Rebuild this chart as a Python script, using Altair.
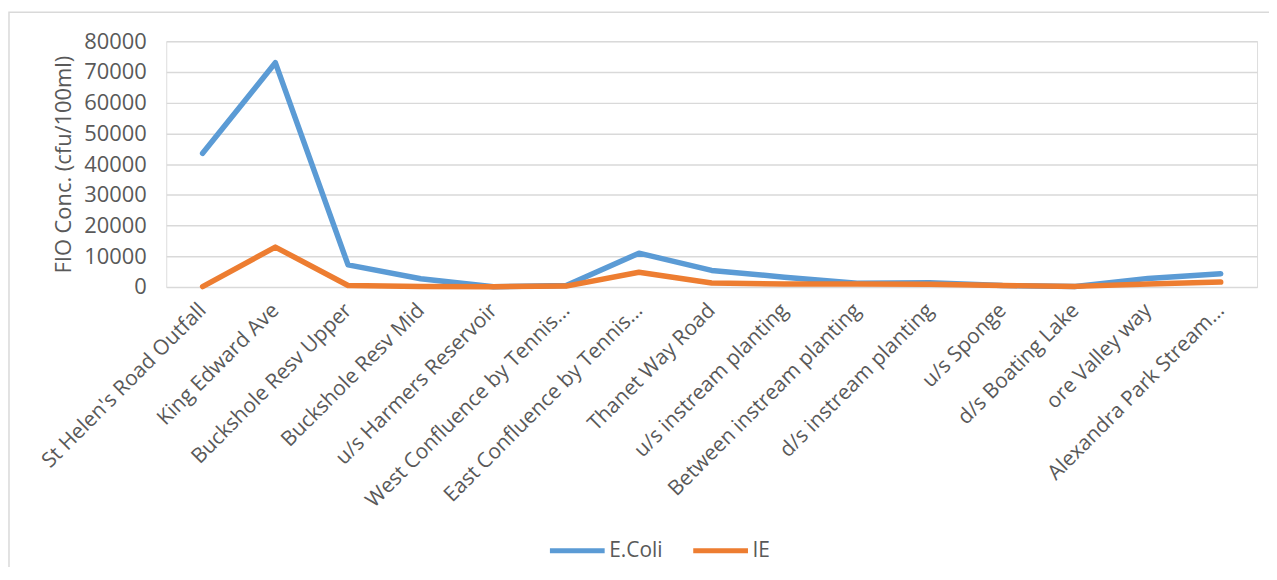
import altair as alt
import pandas as pd

sites = [
    "St Helen's Road Outfall", "King Edward Ave", "Buckshole Resv Upper",
    "Buckshole Resv Mid", "u/s Harmers Reservoir", "West Confluence by Tennis...",
    "East Confluence by Tennis...", "Thanet Way Road", "u/s instream planting",
    "Between instream planting", "d/s instream planting", "u/s Sponge",
    "d/s Boating Lake", "ore Valley way", "Alexandra Park Stream...",
]
ecoli = [43500, 73000, 7200, 2700, 100, 500, 11000, 5400, 3200, 1200, 1400, 500, 150, 2800, 4300]
ie = [150, 13000, 500, 200, 100, 300, 4800, 1300, 1000, 1000, 900, 500, 200, 1000, 1600]
series = ["E.Coli", "IE"]
colors = ["#5B9BD5", "#ED7D31"]
y_ticks = [0, 10000, 20000, 30000, 40000, 50000, 60000, 70000, 80000]

rows = []
for s, v in zip(sites, ecoli):
    rows.append({"site": s, "series": series[0], "value": v})
for s, v in zip(sites, ie):
    rows.append({"site": s, "series": series[1], "value": v})
df = pd.DataFrame(rows)

FONT = "Open Sans"
GREY = "#595959"

border = alt.Chart(pd.DataFrame({"a": [0]})).mark_rect(
    fill=None, stroke="#d9d9d9", strokeWidth=1.5, clip=False
).encode(
    x=alt.value(-158), x2=alt.value(1300), y=alt.value(-29), y2=alt.value(700)
)

lines = alt.Chart(df).mark_line(
    strokeWidth=5.5, strokeCap="round", strokeJoin="round"
).encode(
    x=alt.X("site:N", sort=sites, title=None,
            scale=alt.Scale(paddingOuter=0.5, paddingInner=0),
            axis=alt.Axis(labelAngle=-45, labelAlign="right", labelBaseline="middle",
                          labelPadding=20, ticks=False, domain=False, grid=False,
                          labelFont=FONT, labelFontSize=21, labelColor=GREY,
                          labelLimit=400)),
    y=alt.Y("value:Q", title="FIO Conc. (cfu/100ml)",
            scale=alt.Scale(domain=[0, 80000], nice=False),
            axis=alt.Axis(values=y_ticks, format="d", ticks=False, domain=False,
                          grid=True, gridColor="#d9d9d9", gridWidth=1.5,
                          labelFont=FONT, labelFontSize=22, labelColor=GREY,
                          labelPadding=20, titleFont=FONT, titleFontSize=22,
                          titleColor=GREY, titleFontWeight="normal", titlePadding=8)),
    color=alt.Color("series:N", sort=series,
                    scale=alt.Scale(domain=series, range=colors),
                    legend=alt.Legend(title=None, orient="none", direction="horizontal",
                                      legendX=383, legendY=482,
                                      symbolType="stroke", symbolSize=3025,
                                      symbolStrokeWidth=5, labelFont=FONT,
                                      labelFontSize=21, labelColor=GREY,
                                      labelOffset=2, columnPadding=20)),
    order=alt.Order("series:N"),
)

chart = alt.layer(border, lines).properties(
    width=1096, height=247,
    autosize=alt.AutoSizeParams(type="none"),
    padding={"left": 159, "top": 32, "right": 12, "bottom": 280},
).configure_view(stroke=None).configure(background="white")

chart.save("out.html", embed_options={"renderer": "svg", "actions": False})
